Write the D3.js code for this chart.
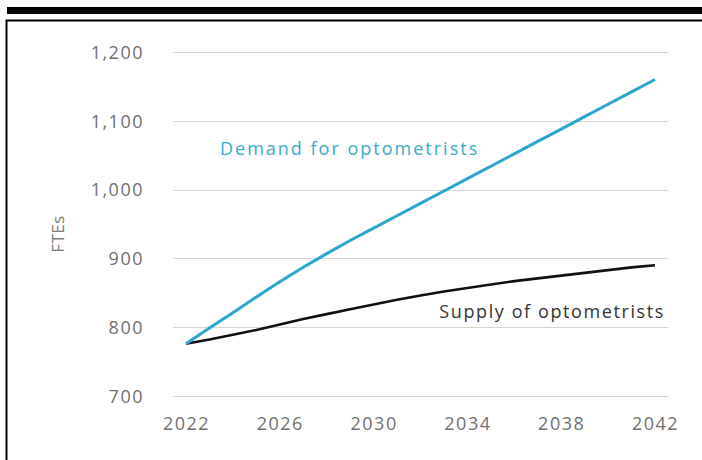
<!DOCTYPE html>
<html>
<head>
<meta charset="utf-8">
<script src="https://cdn.jsdelivr.net/npm/d3@7"></script>
<style>
  html, body { margin: 0; padding: 0; background: #fff; }
  svg { display: block; }
  text { font-family: "Open Sans", "Noto Sans", sans-serif; }
</style>
</head>
<body>
<svg id="chart" width="702" height="460"></svg>
<script>
// Optometrist workforce projections, FTEs per year
const years = d3.range(2022, 2043);
const demand = [776, 799, 821, 844, 866, 887, 907, 926, 944, 962, 980,
                998, 1016, 1034, 1052, 1070, 1088, 1106, 1124, 1142, 1160];
const supply = [776, 782, 789, 796, 804, 812, 819, 826, 833, 840, 846,
                852, 857, 862, 867, 871, 875, 879, 883, 887, 890];
const xTicks = [2022, 2026, 2030, 2034, 2038, 2042];
const yTicks = [700, 800, 900, 1000, 1100, 1200];
const demandLabel = "Demand for optometrists";
const supplyLabel = "Supply of optometrists";
const yTitle = "FTEs";

const svg = d3.select("#chart");

// Outer frame: heavy rule on top, thin box below it
svg.append("rect").attr("x", 7).attr("y", 7).attr("width", 695).attr("height", 7).attr("fill", "#000");
svg.append("path")
  .attr("d", "M6.5,460 V20.5 H702")
  .attr("fill", "none").attr("stroke", "#000").attr("stroke-width", 2);

const x = d3.scaleLinear().domain([2022, 2042]).range([186, 655]);
const y = d3.scaleLinear().domain([700, 1200]).range([396, 52]);

// Horizontal gridlines
svg.append("g").selectAll("line").data(yTicks).join("line")
  .attr("x1", 173).attr("x2", 668)
  .attr("y1", d => Math.round(y(d)) + 0.5).attr("y2", d => Math.round(y(d)) + 0.5)
  .attr("stroke", "#d6d6d6").attr("stroke-width", 1.2);

// Value labels
const yAxis = d3.axisLeft(y).tickValues(yTicks).tickFormat(d3.format(",")).tickSize(0).tickPadding(0);
const gy = svg.append("g").attr("transform", "translate(144,0)").call(yAxis);
gy.select(".domain").remove();
gy.selectAll("text").attr("fill", "#707070").attr("font-size", 18).attr("letter-spacing", "1.5px").attr("dy", "0.35em");

// Year labels
const xAxis = d3.axisBottom(x).tickValues(xTicks).tickFormat(d3.format("d")).tickSize(0).tickPadding(0);
const gx = svg.append("g").attr("transform", "translate(0,424)").call(xAxis);
gx.select(".domain").remove();
gx.selectAll("text").attr("fill", "#707070").attr("font-size", 18).attr("letter-spacing", "1.5px").attr("dy", "0.35em");

// Axis title
svg.append("text")
  .attr("transform", "translate(64,234) rotate(-90)")
  .attr("text-anchor", "middle")
  .attr("fill", "#7a7a7a").attr("font-size", 17).attr("letter-spacing", "0.5px")
  .text(yTitle);

const line = d3.line().x((d, i) => x(years[i])).y(d => y(d));

svg.append("path").datum(supply)
  .attr("d", line).attr("fill", "none")
  .attr("stroke", "#111").attr("stroke-width", 2.6).attr("stroke-linejoin", "round");

svg.append("path").datum(demand)
  .attr("d", line).attr("fill", "none")
  .attr("stroke", "#2aa6cc").attr("stroke-width", 3).attr("stroke-linejoin", "round");

// Series labels
svg.append("text")
  .attr("x", 220).attr("y", 155)
  .attr("fill", "#3aabc9").attr("font-size", 18).attr("letter-spacing", "2px")
  .text(demandLabel);

svg.append("text")
  .attr("x", 665).attr("y", 318).attr("text-anchor", "end")
  .attr("fill", "#333").attr("font-size", 18).attr("letter-spacing", "1.6px")
  .text(supplyLabel);
</script>
</body>
</html>
